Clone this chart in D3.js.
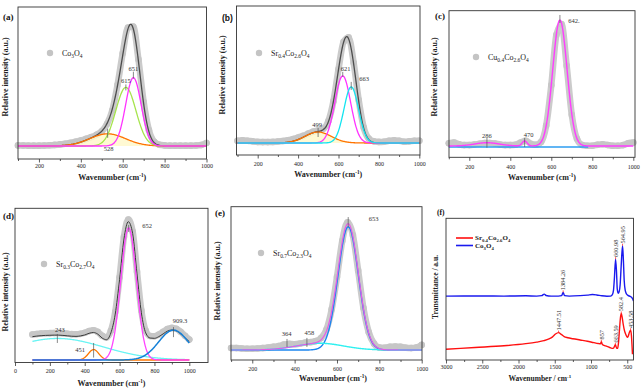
<!DOCTYPE html>
<html>
<head>
<meta charset="utf-8">
<title>Raman and FTIR spectra</title>
<script src="https://d3js.org/d3.v7.min.js"></script>
<style>
  body { margin: 0; background: #ffffff; }
  #chart { display: block; }
</style>
</head>
<body>
<svg id="chart" width="643" height="389"></svg>
<script>
// ---------------- data ----------------
// Raman shift grid (cm-1) for the measured spectra of panels a-e
var ramanX = [100,125,150,175,200,225,250,275,300,325,350,375,400,425,450,475,500,525,550,575,600,625,650,675,700,725,750,775,800,825,850,875,900,925,950,975,1000];
var ramanTicks = [200, 400, 600, 800, 1000];
var ramanMinor = [100, 300, 500, 700, 900];

// (a) Co3O4 - measured intensity (100 = top of the main band)
var aData = [0.5,0.4,0.3,0.3,0.3,0.4,0.6,0.9,1.3,1.9,2.6,3.5,4.5,5.8,7.3,9.2,12,18,29,50,76,97,98,71,36,13,3.5,1,0.5,0.3,0.3,0.3,0.3,0.3,0.4,0.8,2.5];
// fitted bands: position, height, sigma
var aPeakPos = [528, 615, 651];
var aPeakHeight = [10, 48, 56];
var aPeakWidth = [85, 48, 37];
var aPeakLabels = ["528", "615", "651"];

// (b) Sr0.4Co2.6O4
var bData = [2,2.4,2.1,1.5,1,0.8,0.8,1,1.3,1.8,2.5,3.5,5,6.5,8.5,10.3,11.5,13,20,38,67,92,96,73,39,14,4,1.5,1,1.2,2,2.5,2,1.2,1.5,2,2];
var bPeakPos = [499, 621, 663];
var bPeakHeight = [10, 61, 51];
var bPeakWidth = [65, 39, 36];
var bPeakLabels = ["499", "621", "663"];

// (c) Cu0.4Co2.6O4
var cData = [3,3.5,2.2,1.5,1.5,2,2.6,3.1,3.2,2.8,2,1.5,1.5,1.8,3.5,5,2.5,1.8,4,17,49,89,97.5,64.5,25.5,6.5,1.6,1,1,1.8,2.2,1.6,1,1,1.5,3,3.5];
var cPeakPos = [286, 470, 642];
var cPeakHeight = [2.6, 4, 100];
var cPeakWidth = [60, 12, 35];
var cOffset = 0.8;
var cBaseline = [100, 780];
var cPeakLabels = ["286", "470", "642."];

// (d) Sr0.3Co2.7O4
var dData = [18.3,18.7,19,19.2,19.3,19.4,19.4,19.2,18.9,18.6,18.5,18.8,19.6,20.8,21.4,20.2,17.4,16.2,21,34.5,59.5,88.5,101,92.5,63.5,35.5,21,17.3,17.1,18.3,20.3,22.3,23.1,22.5,20.3,17.5,14.7];
var dFit = [16.8,17.2,17.5,17.7,17.8,17.9,17.9,17.7,17.4,17.1,17,17.3,18,19.2,19.8,18.6,15.8,14.6,19.5,33,58,87,99.5,91,62,34,19.5,15.8,15.6,16.8,18.8,20.8,21.6,21,18.8,16,13.2];
var dPeakPos = [243, 451, 652, 909.3];
var dPeakHeight = [15.5, 7.5, 95, 21.5];
var dPeakWidth = [264, 30, 45, 85];
var dPeakLabels = ["243", "451", "652", "909.3"];
var dTicks = [0, 200, 400, 600, 800, 1000];
var dMinor = [100, 300, 500, 700, 900];

// (e) Sr0.7Co2.3O4
var eData = [1.5,1.5,1.2,1,1,1.2,1.5,2,2.5,3.2,4.3,4.8,4.5,5,5.8,6.2,7,9.5,16,32,57.5,86,100.5,90.5,62.5,33,14,5,2,1.8,2.5,2.8,2.5,1.8,1.5,2,4];
var ePeakPos = [653, 520];
var ePeakHeight = [97, 5.3];
var ePeakWidth = [48, 110];
var eMarkPos = [364, 458, 653];
var eMarkLabels = ["364", "458", "653"];

// (f) FTIR transmittance
var ftCoX = [3000,2600,2200,1900,1750,1680,1645,1620,1550,1450,1405,1384.26,1365,1300,1150,1050,980,920,850,780,730,705,690,678,660.98,648,638,625,612,598,584,564.95,553,542,528,510,490,460,440,425,414];
var ftCoY = [45,45.1,45,45.2,45,45.3,46.4,45.4,45,45,45.3,47.6,45.3,45,45.3,45.7,46.1,45.8,45.2,44.9,45,46,49,57,71,62,50,47,48,53,66,80.5,70,56,49,46.5,45.5,44.8,44.2,43,41.5];
var ftSrX = [3000,2600,2200,1900,1750,1650,1580,1530,1490,1447.51,1410,1370,1320,1250,1150,1050,960,900,870,857,843,800,750,710,690,663.59,645,632,620,605,592,582.4,570,555,540,520,500,485,470,453.58,442,434,428];
var ftSrY = [7.6,8.8,10,11.5,12.6,13.6,14.8,16.3,18.3,19.3,18,16.5,15.7,15,14.1,13.2,12.2,11.6,11.4,12.9,10.9,9.9,9,8.2,8.4,10.7,8.2,8.3,12.5,23,30.5,32.8,30,25,21,18,16,17,19.5,21,17,10,4];
var coPeaks = [1384.26, 660.98, 564.95];
var coPeakLabels = ["1384.26", "660.98", "564.95"];
var srPeaks = [1447.51, 857, 663.59, 582.4, 453.58];
var srPeakLabels = ["1447.51", "857", "663.59", "582.4", "453.58"];
var ftTicks = [3000, 2500, 2000, 1500, 1000, 500];
var ftMinor = [2750, 2250, 1750, 1250, 750];

// ---------------- drawing ----------------
var SERIF = '"Liberation Serif", "Times New Roman", serif';
var svg = d3.select('#chart');

function gauss(x, c, h, s) { return h * Math.exp(-(x - c) * (x - c) / (2 * s * s)); }

// x positions where the fitted bands are evaluated
var fineX = d3.range(100, 1000.01, 4);

function bandPoints(pos, height, width, idx, offset) {
    return fineX.map(function (v) {
        var s = offset || 0;
        idx.forEach(function (i) { s += gauss(v, pos[i], height[i], width[i]); });
        return [v, s];
    });
}

function makePanel(p) {
    var x = d3.scaleLinear().domain(p.xd).range(p.xr);
    var y = d3.scaleLinear().domain([0, 100]).range(p.yr);
    var g = svg.append('g').attr('font-family', SERIF);
    var line = d3.line()
        .x(function (d) { return x(d[0]); })
        .y(function (d) { return y(d[1]); })
        .curve(d3.curveMonotoneX);
    return { x: x, y: y, g: g, line: line, p: p };
}

function curve(P, pts, color, width) {
    return P.g.append('path').datum(pts).attr('d', P.line)
        .attr('fill', 'none').attr('stroke', color).attr('stroke-width', width || 1.3);
}

// measured spectrum: thick light-grey band of symbols
function drawData(P, vals) {
    var pts = ramanX.map(function (v, i) { return [v, vals[i]]; });
    curve(P, pts, '#cbcbcb', 6.5).attr('stroke-linecap', 'round');
    P.g.selectAll(null).data(pts).enter().append('circle')
        .attr('cx', function (d) { return P.x(d[0]); })
        .attr('cy', function (d) { return P.y(d[1]); })
        .attr('r', 3.3).attr('fill', '#c6c6c6');
}

// sub-scripted chemical formula
function chem(t, formula, size) {
    var parts = formula.match(/[A-Za-z]+|[0-9.]+/g);
    var low = false;
    parts.forEach(function (s) {
        var num = /^[0-9.]/.test(s);
        var ts = t.append('tspan').text(s).attr('font-size', num ? size * 0.68 : size);
        if (num && !low) { ts.attr('dy', size * 0.28); low = true; }
        else if (!num && low) { ts.attr('dy', -size * 0.28); low = false; }
    });
}

function peakMark(P, xv, yv, label, o) {
    var px = P.x(xv), py = P.y(yv);
    P.g.append('line').attr('x1', px).attr('x2', px)
        .attr('y1', py + o[2]).attr('y2', py + o[3])
        .attr('stroke', '#555').attr('stroke-width', 0.7);
    P.g.append('text').attr('x', px + o[0]).attr('y', py + o[1])
        .attr('text-anchor', 'middle').attr('font-size', 6.5).attr('fill', '#333')
        .text(label);
}

function legendDot(P, formula) {
    var l = P.p.legend;
    P.g.append('circle').attr('cx', l[0]).attr('cy', l[1]).attr('r', 3.2).attr('fill', '#c4c4c4');
    chem(P.g.append('text').attr('x', l[0] + 12).attr('y', l[1] + 3).attr('fill', '#222'), formula, 8);
}

function frameAndAxes(P, xTitle, yTitle) {
    var p = P.p;
    var minor = P.g.append('g').attr('transform', 'translate(0,' + p.box.b + ')')
        .call(d3.axisBottom(P.x).tickValues(p.minor).tickSize(2).tickFormat(''));
    minor.select('.domain').remove();
    var major = P.g.append('g').attr('transform', 'translate(0,' + p.box.b + ')')
        .call(d3.axisBottom(P.x).tickValues(p.major).tickSize(3.5).tickFormat(d3.format('d')));
    major.select('.domain').remove();
    major.attr('font-family', SERIF).attr('font-size', 6);
    major.selectAll('text').attr('y', p.tickY - p.box.b).attr('dy', null).attr('fill', '#222');
    P.g.selectAll('.tick line').attr('stroke', '#333').attr('stroke-width', 0.8);

    P.g.append('rect').attr('x', p.box.l).attr('y', p.box.t)
        .attr('width', p.box.r - p.box.l).attr('height', p.box.b - p.box.t)
        .attr('fill', 'none').attr('stroke', '#333').attr('stroke-width', 0.9);

    // x title with cm-1 superscript
    var fs = p.titleSize || 8;
    var xt = P.g.append('text').attr('x', p.titleX || (p.box.l + p.box.r) / 2).attr('y', p.titleY)
        .attr('text-anchor', 'middle').attr('font-weight', 'bold').attr('font-size', fs).attr('fill', '#222');
    xt.append('tspan').text(xTitle[0]);
    xt.append('tspan').text('-1').attr('font-size', fs * 0.65).attr('dy', -fs * 0.4);
    if (xTitle[1]) xt.append('tspan').text(xTitle[1]).attr('dy', fs * 0.4);

    P.g.append('text')
        .attr('transform', 'translate(' + p.yTitle[0] + ',' + p.yTitle[1] + ') rotate(-90)')
        .attr('text-anchor', 'middle').attr('font-weight', 'bold').attr('font-size', fs).attr('fill', '#222')
        .text(yTitle);

    P.g.append('text').attr('x', p.letter[1]).attr('y', p.letter[2])
        .attr('font-weight', 'bold').attr('font-size', p.letter[3] || 9).attr('fill', '#111')
        .attr('font-family', p.letter[4] || SERIF)
        .text(p.letter[0]);
}

var ramanTitle = ['Wavenumber (cm', ')'];
var ramanY = 'Relative intensity (a.u.)';

// ---- (a) ----
var A = makePanel({ xd: [100, 1000], xr: [18, 206.5], yr: [146, 24],
    box: { l: 18, r: 206.5, t: 7, b: 159 }, major: ramanTicks, minor: ramanMinor,
    tickY: 167.5, titleY: 180, yTitle: [8, 77], letter: ['(a)', 3, 20], legend: [50, 53] });
drawData(A, aData);
var aArea = d3.area().x(function (d) { return A.x(d[0]); }).y0(A.y(0))
    .y1(function (d) { return A.y(d[1]); }).curve(d3.curveMonotoneX);
A.g.append('path').datum(bandPoints(aPeakPos, aPeakHeight, aPeakWidth, [0]))
    .attr('d', aArea).attr('fill', '#fff8c8').attr('opacity', 0.8);
curve(A, bandPoints(aPeakPos, aPeakHeight, aPeakWidth, [0, 1, 2]), '#4d4d4d', 1.3);
curve(A, bandPoints(aPeakPos, aPeakHeight, aPeakWidth, [0]), '#ff7300');
curve(A, bandPoints(aPeakPos, aPeakHeight, aPeakWidth, [1]), '#a6e44c');
curve(A, bandPoints(aPeakPos, aPeakHeight, aPeakWidth, [2]), '#ff33ff');
var aOff = [[1, 17, -5, 4], [0, -4, -3, 3], [0, -7, -6, 1]];
aPeakPos.forEach(function (v, i) { peakMark(A, v, aPeakHeight[i], aPeakLabels[i], aOff[i]); });
legendDot(A, 'Co3O4');
frameAndAxes(A, ramanTitle, ramanY);

// ---- (b) ----
var B = makePanel({ xd: [100, 1000], xr: [237.5, 419.3], yr: [143, 33],
    box: { l: 236.5, r: 420, t: 6, b: 155 }, major: ramanTicks, minor: ramanMinor,
    tickY: 166, titleY: 177, yTitle: [225, 75], letter: ['(b)', 222, 21, 8.5, '"Liberation Sans", Arial, sans-serif'], legend: [259, 53] });
drawData(B, bData);
var bArea = d3.area().x(function (d) { return B.x(d[0]); }).y0(B.y(0))
    .y1(function (d) { return B.y(d[1]); }).curve(d3.curveMonotoneX);
B.g.append('path').datum(bandPoints(bPeakPos, bPeakHeight, bPeakWidth, [0]))
    .attr('d', bArea).attr('fill', '#fff8c8').attr('opacity', 0.8);
curve(B, bandPoints(bPeakPos, bPeakHeight, bPeakWidth, [0, 1, 2]), '#4d4d4d', 1.3);
curve(B, bandPoints(bPeakPos, bPeakHeight, bPeakWidth, [0]), '#ff7300');
curve(B, bandPoints(bPeakPos, bPeakHeight, bPeakWidth, [1]), '#ff33ff');
curve(B, bandPoints(bPeakPos, bPeakHeight, bPeakWidth, [2]), '#14e4f0');
var bOff = [[-1, -5, -4, 5], [3, -5, -4, 1], [13, -6, -5, 3]];
bPeakPos.forEach(function (v, i) { peakMark(B, v, bPeakHeight[i], bPeakLabels[i], bOff[i]); });
legendDot(B, 'Sr0.4Co2.6O4');
frameAndAxes(B, ramanTitle, ramanY);

// ---- (c) ----
var C = makePanel({ xd: [100, 1000], xr: [448.8, 633.3], yr: [147, 21],
    box: { l: 449, r: 635, t: 10.7, b: 157.3 }, major: ramanTicks, minor: ramanMinor,
    tickY: 169, titleY: 180, yTitle: [437, 77], letter: ['(c)', 435, 19], legend: [476, 57] });
drawData(C, cData);
curve(C, cBaseline.map(function (v) { return [v, 0]; }), '#2c9cf0', 1.4);
curve(C, bandPoints(cPeakPos, cPeakHeight, cPeakWidth, [0, 1, 2], cOffset), '#ff3dff', 1.4);
var cOff = [[0, -5, -4.7, 5], [4, -4, -3, 6], [14, 3, -5, 3]];
cPeakPos.forEach(function (v, i) {
    var tot = cOffset;
    cPeakPos.forEach(function (c, j) { tot += gauss(v, c, cPeakHeight[j], cPeakWidth[j]); });
    peakMark(C, v, tot, cPeakLabels[i], cOff[i]);
});
legendDot(C, 'Cu0.4Co2.6O4');
frameAndAxes(C, ramanTitle, ramanY);

// ---- (d) ----
var D = makePanel({ xd: [0, 1000], xr: [15, 189.3], yr: [360, 221],
    box: { l: 15, r: 208, t: 208.3, b: 362.5 }, major: dTicks, minor: dMinor,
    tickY: 373, titleY: 386, yTitle: [8, 292], letter: ['(d)', 3, 219], legend: [44, 264] });
drawData(D, dData);
curve(D, ramanX.map(function (v, i) { return [v, dFit[i]]; }), '#3a3a3a', 1);
curve(D, bandPoints(dPeakPos, dPeakHeight, dPeakWidth, [0]), '#6af4f4');
curve(D, bandPoints(dPeakPos, dPeakHeight, dPeakWidth, [1]), '#ff7700');
curve(D, bandPoints(dPeakPos, dPeakHeight, dPeakWidth, [2]), '#ff44ff');
curve(D, bandPoints(dPeakPos, dPeakHeight, dPeakWidth, [3]), '#1580d8', 1.5);
var dOff = [[2.5, -6, -4.5, 4.5], [-13.6, 2.5, -6.6, 8], [18.4, 0, -3, 4], [6.5, -7, -3, 7]];
dPeakPos.forEach(function (v, i) { peakMark(D, v, dPeakHeight[i], dPeakLabels[i], dOff[i]); });
legendDot(D, 'Sr0.3Co2.7O4');
frameAndAxes(D, ramanTitle, ramanY);

// ---- (e) ----
var E = makePanel({ xd: [100, 1000], xr: [231.1, 421.7], yr: [350, 223],
    box: { l: 231, r: 422, t: 206.7, b: 360 }, major: ramanTicks, minor: ramanMinor,
    tickY: 370.5, titleY: 381, titleX: 333, yTitle: [220, 281], letter: ['(e)', 215, 216], legend: [261, 253] });
drawData(E, eData);
curve(E, bandPoints(ePeakPos, ePeakHeight, ePeakWidth, [0]), '#1d86f0', 1.4);
curve(E, bandPoints(ePeakPos, ePeakHeight, ePeakWidth, [1]), '#2ff0f0', 1.4);
curve(E, bandPoints(ePeakPos, ePeakHeight, ePeakWidth, [0, 1]), '#e65be6', 1.2);
var eOff = [[-0.5, -11.6, -8.6, -0.6], [2.5, -9.3, -6.3, 2.7], [25.4, -2.5, -6.5, 3.5]];
eMarkPos.forEach(function (v, i) {
    var tot = gauss(v, ePeakPos[0], ePeakHeight[0], ePeakWidth[0]) + gauss(v, ePeakPos[1], ePeakHeight[1], ePeakWidth[1]);
    peakMark(E, v, tot, eMarkLabels[i], eOff[i]);
});
legendDot(E, 'Sr0.7Co2.3O4');
frameAndAxes(E, ramanTitle, ramanY);

// ---- (f) ----
var F = makePanel({ xd: [3000, 500], xr: [446, 627.25], yr: [360, 218],
    box: { l: 446, r: 633.5, t: 218.3, b: 360 }, major: ftTicks, minor: ftMinor,
    tickY: 369, titleY: 381, titleSize: 7.5, yTitle: [438, 287], letter: ['(f)', 437, 215, 7.5] });
curve(F, ftCoX.map(function (v, i) { return [v, ftCoY[i]]; }), '#1a1aee', 1.4);
curve(F, ftSrX.map(function (v, i) { return [v, ftSrY[i]]; }), '#ff1010', 1.4);

function ftLabel(xs, ys, v, label) {
    var k = xs.indexOf(v);
    var px = F.x(v), py = F.y(ys[k]);
    F.g.append('line').attr('x1', px).attr('x2', px).attr('y1', py - 2).attr('y2', py)
        .attr('stroke', '#ff3030').attr('stroke-width', 0.8);
    F.g.append('text').attr('transform', 'translate(' + (px + 2.2) + ',' + (py - 2.2) + ') rotate(-90)')
        .attr('font-size', 6.3).attr('fill', '#333').text(label);
}
coPeaks.forEach(function (v, i) { ftLabel(ftCoX, ftCoY, v, coPeakLabels[i]); });
srPeaks.forEach(function (v, i) { ftLabel(ftSrX, ftSrY, v, srPeakLabels[i]); });

// legend
[['Sr0.4Co2.6O4', '#ff1010', 238], ['Co3O4', '#1a1aee', 245.5]].forEach(function (d) {
    F.g.append('line').attr('x1', 456).attr('x2', 473).attr('y1', d[2]).attr('y2', d[2])
        .attr('stroke', d[1]).attr('stroke-width', 1.6);
    chem(F.g.append('text').attr('x', 475).attr('y', d[2] + 2.3).attr('font-weight', 'bold').attr('fill', '#222'), d[0], 7);
});
frameAndAxes(F, ['Wavenumber / cm', ''], 'Transmittance / a.u.');
</script>
</body>
</html>
